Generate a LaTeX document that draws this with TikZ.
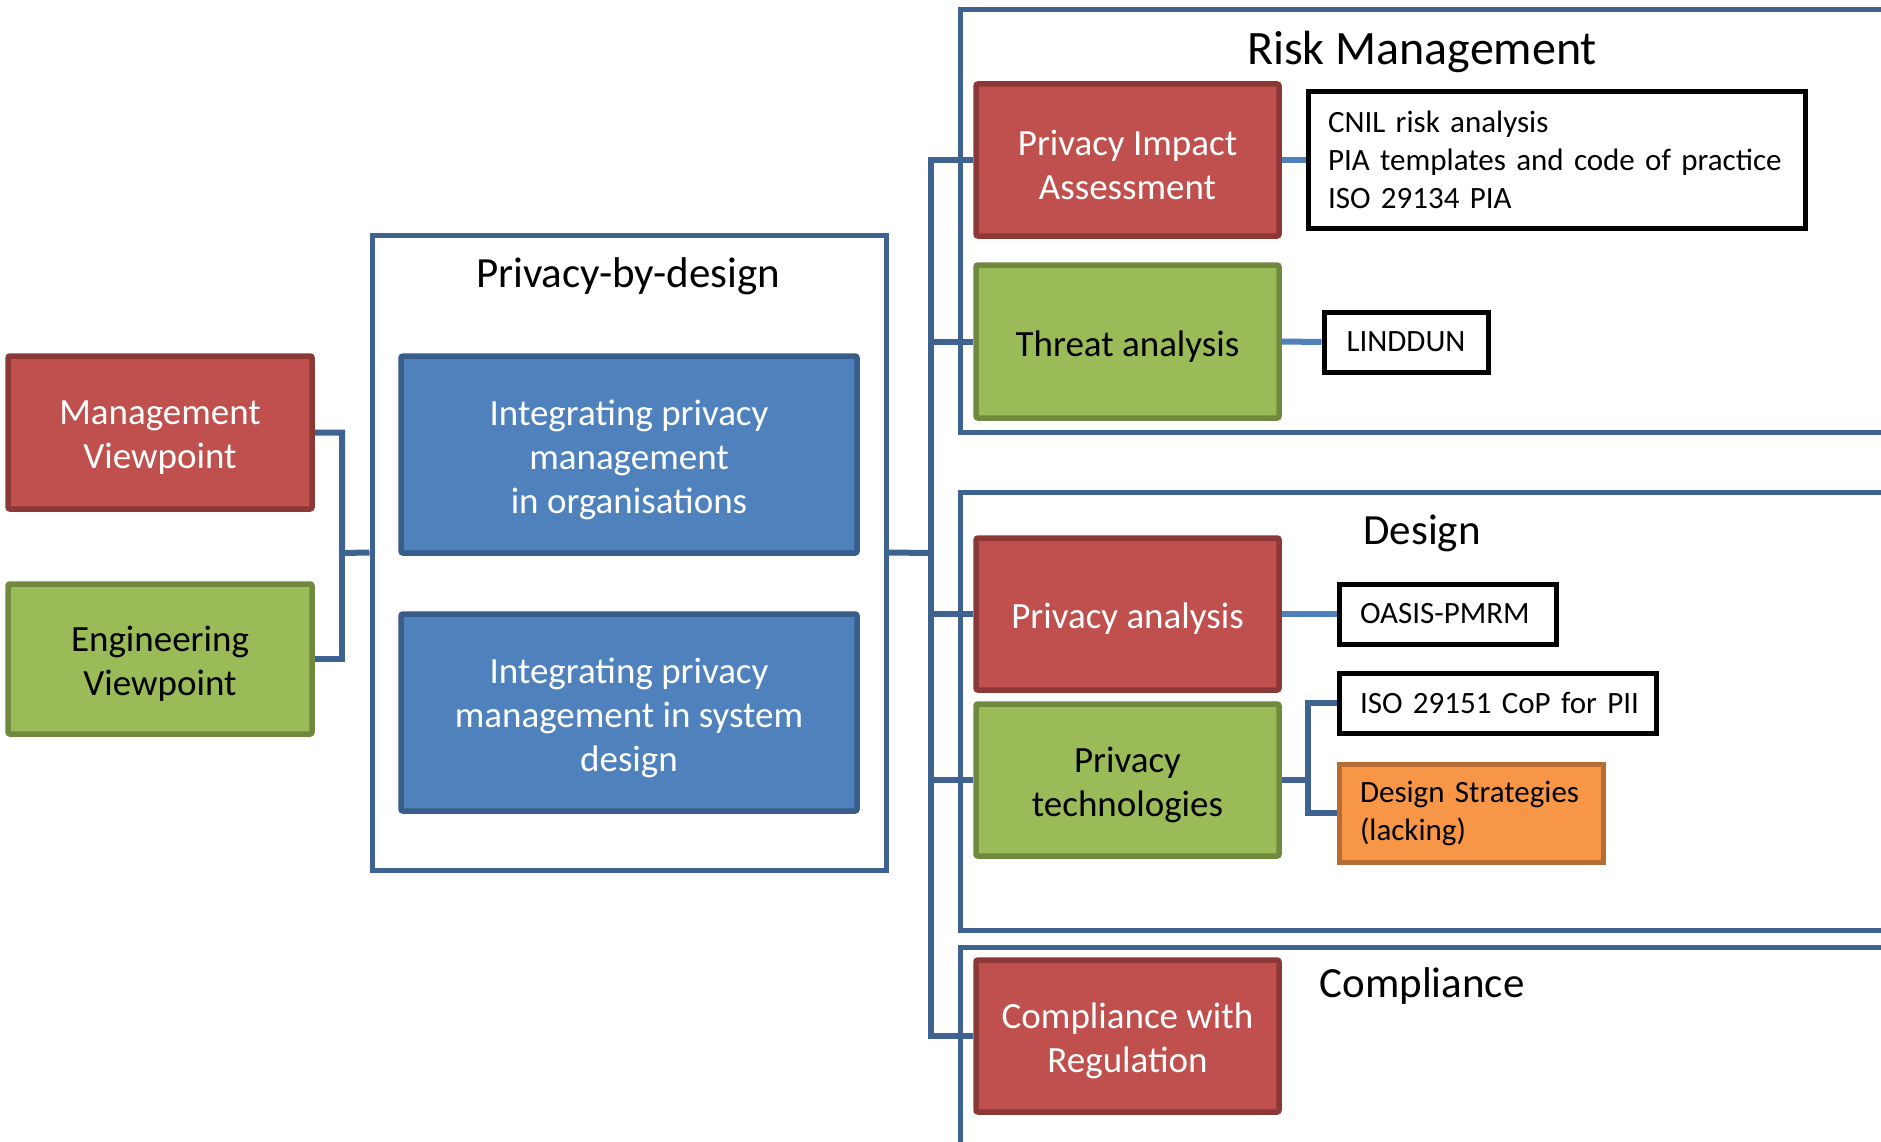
\documentclass[tikz,border=0pt]{standalone}
\usepackage{fontspec}
\setmainfont{Carlito}
\usetikzlibrary{backgrounds}
\definecolor{redfill}{HTML}{C0504D}
\definecolor{redline}{HTML}{8C3836}
\definecolor{greenfill}{HTML}{9BBB59}
\definecolor{greenline}{HTML}{71893F}
\definecolor{bluefill}{HTML}{4F81BD}
\definecolor{blueline}{HTML}{385D8A}
\definecolor{orangefill}{HTML}{F79646}
\definecolor{orangeline}{HTML}{B66D31}
\definecolor{wire}{HTML}{3F6391}
\definecolor{lightwire}{HTML}{4F81BD}

\begin{document}
\begin{tikzpicture}[x=1pt,y=-1pt,
  block/.style={draw, line width=5.5pt, rounded corners=2pt, inner sep=0pt,
    minimum width=303pt, minimum height=152pt},
  blocktext/.style={inner sep=0pt, align=center, yshift=-5pt,
    font=\fontsize{37}{44}\selectfont},
  redblock/.style={block, fill=redfill, draw=redline,
    label={[blocktext, text=white]center:{#1}}},
  greenblock/.style={block, fill=greenfill, draw=greenline,
    label={[blocktext, text=black]center:{#1}}},
  blueblock/.style={block, fill=bluefill, draw=blueline,
    minimum width=456pt, minimum height=197pt,
    label={[blocktext, text=white]center:{#1}}},
  refbox/.style={draw=black, line width=5pt, fill=white, inner sep=0pt,
    minimum height=60pt, font=\fontsize{31}{38}\selectfont},
  orangebox/.style={draw=orangeline, line width=5pt, fill=orangefill, inner sep=0pt,
    font=\fontsize{31}{38}\selectfont},
  frame/.style={draw=wire, line width=5pt, fill=none, inner sep=0pt},
  title/.style={font=\fontsize{43}{50}\selectfont, inner sep=0pt},
  link/.style={draw=wire, line width=6pt},
  reflink/.style={draw=lightwire, line width=6pt}
]
\useasboundingbox (0,0) rectangle (1881,1142);
\clip (0,0) rectangle (1881,1142);

% viewpoints
\node[redblock={Management\\Viewpoint}, minimum width=304pt, minimum height=153pt] (mgmt) at (160,432.5) {};
\node[greenblock={Engineering\\Viewpoint}, minimum width=304pt, minimum height=150pt] (eng) at (160,659) {};

% privacy-by-design frame
\node[frame, minimum width=514pt, minimum height=635pt] (pbd) at (629,552.5) {};
\node[title] (pbdtitle) at (628,276) {Privacy-by-design};
\node[blueblock={Integrating privacy\\management\\in organisations}] (org) at (629,454.5) {};
\node[blueblock={Integrating privacy\\management in system\\design}] (sys) at (629,712.5) {};

% right-hand frames
\node[frame, minimum width=940pt, minimum height=422pt] (risk) at (1430,221) {};
\node[frame, minimum width=940pt, minimum height=438pt] (design) at (1430,711) {};
\node[frame, minimum width=940pt, minimum height=213pt] (compl) at (1430,1053.5) {};
\node[title, font=\fontsize{48}{54}\selectfont] (risktitle) at (1422,52) {Risk Management};
\node[title] (designtitle) at (1422,533) {Design};
\node[title] (compltitle) at (1422,986) {Compliance};

% activities
\node[redblock={Privacy Impact\\Assessment}] (pia) at (1127.5,160) {};
\node[greenblock={Threat analysis}, minimum height=153pt] (threat) at (1127.5,341.5) {};
\node[redblock={Privacy analysis}] (pa) at (1127.5,614) {};
\node[greenblock={Privacy\\technologies}] (pt) at (1127.5,780) {};
\node[redblock={Compliance with\\Regulation}] (cr) at (1127.5,1036) {};

% references
\node[refbox, minimum width=497pt, minimum height=136pt, align=left, text width=457pt] (cnil) at (1556.5,160)
  {CNIL risk analysis\\PIA templates and code of practice\\ISO 29134 PIA};
\node[refbox, minimum width=164pt] (linddun) at (1406,342) {LINDDUN};
\node[refbox, minimum width=217pt, align=left, text width=175pt] (oasis) at (1447.5,614) {OASIS-PMRM};
\node[refbox, minimum width=317pt, align=left, text width=275pt] (iso) at (1497.5,703) {\mbox{ISO 29151 CoP for PII}};
\node[orangebox, minimum width=264pt, minimum height=98pt, align=left, text width=222pt] (ds) at (1471,813)
  {Design Strategies\\(lacking)};

\coordinate (lbus) at (342,553);
\coordinate (rbus) at (931,553);
\coordinate (fork) at (1308,780);

\begin{scope}[on background layer]
  \fill[white] (0,0) rectangle (1881,1142);
  \draw[link] (mgmt.east) -| (lbus) -- (pbd.west);
  \draw[link] (eng.east) -| (lbus);
  \draw[link] (pbd.east) -- (rbus);
  \draw[link] (pia.west) -- (pia.west -| rbus) -- (cr.west -| rbus) -- (cr.west);
  \draw[link] (threat.west) -- (threat.west -| rbus);
  \draw[link] (pa.west) -- (pa.west -| rbus);
  \draw[link] (pt.west) -- (pt.west -| rbus);
  \draw[link] (pt.east) -- (fork);
  \draw[link] (iso.west) -| (fork) |- (ds.west);
  \draw[reflink] (pia.east) -- (cnil.west);
  \draw[reflink] (threat.east) -- (linddun.west);
  \draw[reflink] (pa.east) -- (oasis.west);
\end{scope}
\end{tikzpicture}
\end{document}
